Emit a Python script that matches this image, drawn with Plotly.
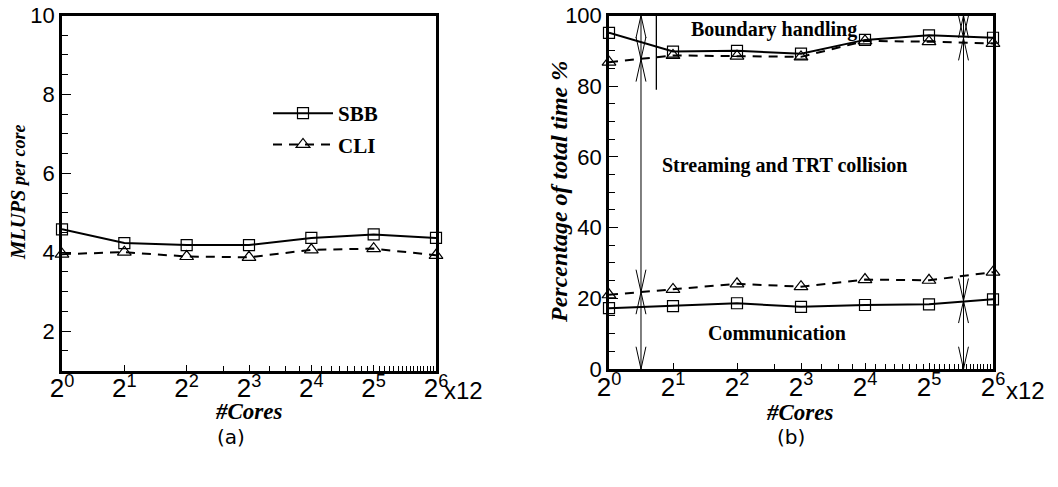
import plotly.graph_objects as go

W, H = 1058, 487

# ---------------- data ----------------
cores = [1, 2, 4, 8, 16, 32, 64]
core_labels = ["2<sup>0</sup>", "2<sup>1</sup>", "2<sup>2</sup>", "2<sup>3</sup>",
               "2<sup>4</sup>", "2<sup>5</sup>", "2<sup>6</sup>"]
minor_core_ticks = [6, 10, 12, 14, 18, 20, 22, 24, 26, 28, 30,
                    34, 36, 38, 40, 42, 44, 46, 48, 50, 52, 54, 56, 58, 60, 62]

sbb_mlups = [4.58, 4.23, 4.18, 4.18, 4.36, 4.45, 4.36]
cli_mlups = [3.95, 4.00, 3.89, 3.87, 4.06, 4.09, 3.92]

sbb_total = [95.1, 89.8, 90.0, 89.2, 93.1, 94.4, 93.7]
cli_total = [86.8, 88.7, 88.5, 88.3, 92.8, 92.6, 92.1]
sbb_comm = [17.2, 17.8, 18.6, 17.6, 18.1, 18.3, 19.7]
cli_comm = [21.0, 22.5, 24.1, 23.3, 25.3, 25.1, 27.4]

# region arrows in panel (b): x position (cores) and the levels they connect
arrow_x = [1.414, 46.5]
arrow_levels = [[0, 21.8, 87.6, 100], [0, 19.3, 93.6, 100]]
divider_x = 1.67
divider_y = [79, 100]

# ---------------- helpers ----------------
def px(x):
    return x / W

def py(y):
    return 1 - y / H

BLACK = "black"
SERIF = "Liberation Serif"
SANS = "Liberation Sans"

fig = go.Figure()

# panel (a)
fig.add_trace(go.Scatter(x=cores, y=sbb_mlups, name="<b>SBB</b>", mode="lines+markers",
                         line=dict(color=BLACK, width=2),
                         marker=dict(symbol="square-open", size=11, color=BLACK, line=dict(width=1.2)),
                         cliponaxis=False, xaxis="x", yaxis="y", legendgroup="a"))
fig.add_trace(go.Scatter(x=cores, y=cli_mlups, name="<b>CLI</b>", mode="lines+markers",
                         line=dict(color=BLACK, width=2, dash="9px,7px"),
                         marker=dict(symbol="triangle-up-open", size=12, color=BLACK, line=dict(width=1.2)),
                         cliponaxis=False, xaxis="x", yaxis="y", legendgroup="b"))

# panel (b)
for ys, dash, sym in [(sbb_total, None, "square-open"), (cli_total, "9px,7px", "triangle-up-open"),
                      (sbb_comm, None, "square-open"), (cli_comm, "9px,7px", "triangle-up-open")]:
    fig.add_trace(go.Scatter(x=cores, y=ys, mode="lines+markers", showlegend=False,
                             line=dict(color=BLACK, width=2, dash=dash),
                             marker=dict(symbol=sym, size=12 if "tri" in sym else 11,
                                         color=BLACK, line=dict(width=1.2)),
                             cliponaxis=False, xaxis="x2", yaxis="y2", hoverinfo="skip"))

# arrows
HEAD_LEN = 6.3
HEAD_F = 1.055
for ax_x, levels in zip(arrow_x, arrow_levels):
    fig.add_trace(go.Scatter(x=[ax_x, ax_x], y=[levels[0], levels[-1]], mode="lines",
                             line=dict(color=BLACK, width=1), showlegend=False,
                             xaxis="x2", yaxis="y2", hoverinfo="skip"))
    for a, b in zip(levels[:-1], levels[1:]):
        hx, hy = [], []
        hx += [ax_x / HEAD_F, ax_x, ax_x * HEAD_F, None]
        hy += [b - HEAD_LEN, b, b - HEAD_LEN, None]
        hx += [ax_x / HEAD_F, ax_x, ax_x * HEAD_F, None]
        hy += [a + HEAD_LEN, a, a + HEAD_LEN, None]
        fig.add_trace(go.Scatter(x=hx, y=hy, mode="lines", line=dict(color=BLACK, width=1),
                                 showlegend=False, xaxis="x2", yaxis="y2", hoverinfo="skip",
                                 cliponaxis=False))
fig.add_trace(go.Scatter(x=[divider_x, divider_x], y=divider_y, mode="lines",
                         line=dict(color=BLACK, width=1.3), showlegend=False,
                         xaxis="x2", yaxis="y2", hoverinfo="skip"))

# ---------------- axes ----------------
xcommon = dict(type="log", range=[0, 1.80618], tickmode="array", tickvals=cores,
               ticktext=core_labels, ticks="inside", ticklen=6, tickwidth=1, tickcolor=BLACK,
               showline=True, linewidth=2.5, linecolor=BLACK, mirror=True,
               showgrid=False, zeroline=False, automargin=False, ticklabelstandoff=-7,
               tickfont=dict(family=SANS, size=26, color=BLACK),
               minor=dict(tickmode="array", tickvals=minor_core_ticks, ticks="inside",
                          ticklen=5, tickwidth=1, tickcolor=BLACK, showgrid=False))
ycommon = dict(ticks="inside", ticklen=9, tickwidth=1, tickcolor=BLACK,
               showline=True, linewidth=2.5, linecolor=BLACK, mirror=True,
               showgrid=False, zeroline=False, automargin=False,
               tickfont=dict(family=SANS, size=22, color=BLACK))

fig.update_layout(
    width=W, height=H, margin=dict(l=0, r=0, t=0, b=0, pad=0), autosize=False,
    paper_bgcolor="white", plot_bgcolor="white",
    xaxis=dict(domain=[px(62), px(436)], anchor="y", **xcommon),
    yaxis=dict(domain=[py(370.5), py(15.5)], anchor="x", range=[1, 10], tick0=0, dtick=2,
               minor=dict(dtick=0.5, tick0=0, ticks="inside", ticklen=6, tickwidth=1,
                          tickcolor=BLACK, showgrid=False), **ycommon),
    xaxis2=dict(domain=[px(609), px(993)], anchor="y2", **xcommon),
    yaxis2=dict(domain=[py(369), py(15.5)], anchor="x2", range=[0, 100], tick0=0, dtick=20,
                minor=dict(dtick=5, tick0=0, ticks="inside", ticklen=6, tickwidth=1,
                           tickcolor=BLACK, showgrid=False), **ycommon),
    showlegend=True,
    legend=dict(x=px(268), y=py(93), xanchor="left", yanchor="top",
                bgcolor="rgba(0,0,0,0)", traceorder="grouped", tracegroupgap=1,
                font=dict(family=SERIF, size=21, color=BLACK), itemwidth=60),
)

ann = []
def add_text(text, x, y, size, family=SERIF, angle=0, xanchor="center"):
    ann.append(dict(text=text, x=px(x), y=py(y), xref="paper", yref="paper",
                    showarrow=False, textangle=angle, xanchor=xanchor, yanchor="middle",
                    font=dict(family=family, size=size, color=BLACK)))

add_text("<b><i>#Cores</i></b>", 249, 411, 23)
add_text("<b><i>#Cores</i></b>", 800, 412, 23)
add_text("<b><i>MLUPS</i></b><b><i><span style='font-size:18px'> per core</span></i></b>",
         18, 193, 20.5, angle=-90)
add_text("<b><i>Percentage of total time %</i></b>", 559, 192, 24, angle=-90)
add_text("x12", 442, 390, 24, family=SANS, xanchor="left")
add_text("x12", 1004, 390, 24, family=SANS, xanchor="left")
add_text("<b>Boundary handling</b>", 774, 29, 20)
add_text("<b>Streaming and TRT collision</b>", 784, 165, 20)
add_text("<b>Communication</b>", 777, 333, 20)
add_text("(a)", 231, 437, 20, family="DejaVu Sans")
add_text("(b)", 791, 437, 20, family="DejaVu Sans")
fig.update_layout(annotations=ann)

fig.write_html("out.html", post_script="document.body.style.margin='0px';")
